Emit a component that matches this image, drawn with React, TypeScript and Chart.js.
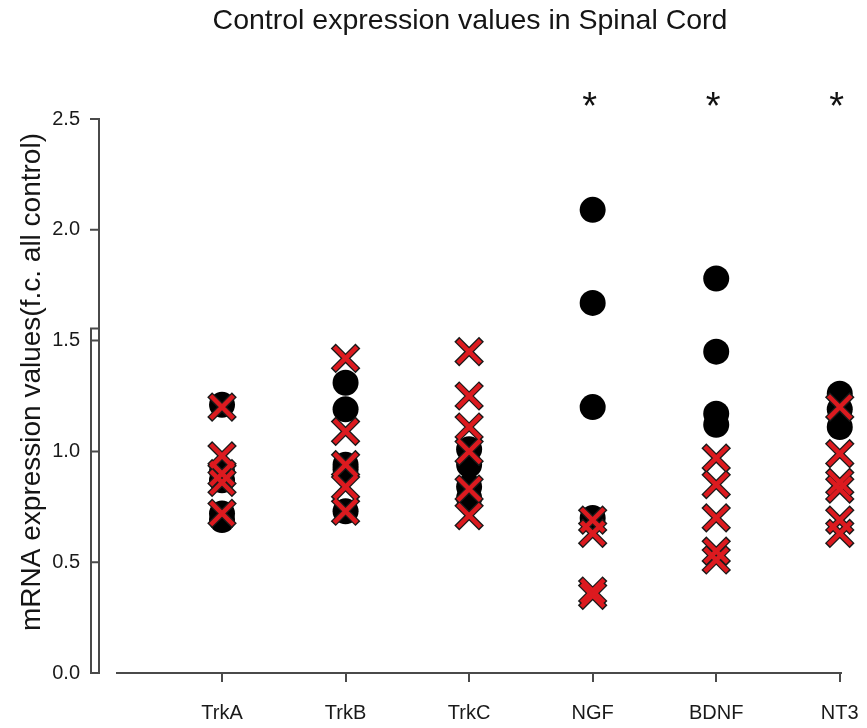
import { useEffect, useRef } from "react";
import { Chart, registerables } from "chart.js";

Chart.register(...registerables);

const chartTitle = "Control expression values in Spinal Cord";
const yAxisTitle = "mRNA expression values(f.c. all control)";
const categories = ["TrkA", "TrkB", "TrkC", "NGF", "BDNF", "NT3"];
// black circles (one list per category)
const circleValues = [
  [1.21, 0.91, 0.87, 0.72, 0.69],
  [1.31, 1.19, 0.94, 0.92, 0.73],
  [1.01, 0.94, 0.84, 0.79],
  [2.09, 1.67, 1.2, 0.7],
  [1.78, 1.45, 1.17, 1.12],
  [1.26, 1.19, 1.11],
];
// red crosses (one list per category)
const crossValues = [
  [1.2, 0.98, 0.9, 0.86, 0.72],
  [1.42, 1.09, 0.94, 0.84, 0.73],
  [1.45, 1.25, 1.11, 1.0, 0.83, 0.71],
  [0.69, 0.63, 0.37, 0.35],
  [0.97, 0.85, 0.7, 0.55, 0.51],
  [1.2, 0.99, 0.86, 0.83, 0.69, 0.63],
];
const significantCategories = ["NGF", "BDNF", "NT3"];
const significanceLevel = 2.6;
const yTickValues = [0, 0.5, 1.0, 1.5, 2.0, 2.5];
const yBoxTop = 1.555;

const FONT = "'Liberation Sans', Arial, Helvetica, sans-serif";
const RED = "#dc1a1f";
const AXIS = "#4a4a4a";

function toPoints(lists: number[][]) {
  const pts: { x: number; y: number }[] = [];
  lists.forEach((vals, i) => vals.forEach((v) => pts.push({ x: i + 1, y: v })));
  return pts;
}

const decorPlugin = {
  id: "decor",
  afterDraw(chart: any) {
    const { ctx, chartArea, scales } = chart;
    const xs = scales.x;
    const ys = scales.y;
    ctx.save();
    // title
    ctx.fillStyle = "#151515";
    ctx.font = `28.5px ${FONT}`;
    ctx.textAlign = "center";
    ctx.textBaseline = "alphabetic";
    ctx.fillText(chartTitle, 470, 29);

    // y axis title
    ctx.save();
    ctx.translate(40, 382);
    ctx.rotate(-Math.PI / 2);
    ctx.font = `28px ${FONT}`;
    ctx.fillText(yAxisTitle, 0, 0);
    ctx.restore();

    // y axis line, ticks and box
    const axisX = chartArea.left - 18;
    const boxX = chartArea.left - 26;
    const y0 = ys.getPixelForValue(0);
    const yTop = ys.getPixelForValue(yTickValues[yTickValues.length - 1]);
    const yBox = ys.getPixelForValue(yBoxTop);
    ctx.strokeStyle = AXIS;
    ctx.lineWidth = 2;
    ctx.beginPath();
    ctx.moveTo(axisX, yTop);
    ctx.lineTo(axisX, y0);
    ctx.moveTo(boxX, yBox);
    ctx.lineTo(boxX, y0);
    ctx.moveTo(boxX - 1, y0);
    ctx.lineTo(axisX + 1, y0);
    ctx.moveTo(boxX - 1, yBox);
    ctx.lineTo(axisX, yBox);
    yTickValues.forEach((v) => {
      const py = ys.getPixelForValue(v);
      ctx.moveTo(axisX - 9, py);
      ctx.lineTo(axisX + 1, py);
    });
    ctx.stroke();

    // significance asterisks
    ctx.fillStyle = "#111";
    ctx.font = `38px ${FONT}`;
    ctx.textAlign = "center";
    ctx.textBaseline = "alphabetic";
    significantCategories.forEach((c) => {
      const idx = categories.indexOf(c);
      const px = xs.getPixelForValue(idx + 1) - 3;
      const py = ys.getPixelForValue(significanceLevel);
      ctx.fillText("*", px, py + 22);
    });
    ctx.restore();
  },
};

export default function App() {
  const ref = useRef<HTMLCanvasElement>(null);
  useEffect(() => {
    if (!ref.current) return;
    const chart = new Chart(ref.current, {
      type: "scatter",
      data: {
        datasets: [
          {
            label: "cross",
            data: toPoints(crossValues),
            pointStyle: "crossRot",
            pointRadius: 16,
            borderColor: RED,
            backgroundColor: RED,
            borderWidth: 4.5,
            clip: false,
            order: 0,
          },
          {
            label: "cross outline",
            data: toPoints(crossValues),
            pointStyle: "crossRot",
            pointRadius: 17.5,
            borderColor: "#1a1a1a",
            backgroundColor: "#1a1a1a",
            borderWidth: 7,
            clip: false,
            order: 1,
          },
          {
            label: "circle",
            data: toPoints(circleValues),
            pointStyle: "circle",
            pointRadius: 13,
            borderWidth: 0,
            backgroundColor: "#000",
            borderColor: "#000",
            clip: false,
            order: 2,
          },
        ],
      },
      options: {
        animation: false,
        responsive: false,
        layout: { padding: { top: 119, right: 26, bottom: 0, left: 0 } },
        plugins: {
          legend: { display: false },
          tooltip: { enabled: false },
          title: { display: false },
        },
        scales: {
          x: {
            type: "linear",
            min: 0.15,
            max: 6.01,
            afterBuildTicks: (axis: any) => {
              axis.ticks = categories.map((_, i) => ({ value: i + 1 }));
            },
            afterFit: (s: any) => {
              s.height = 55;
              s.paddingLeft = 0;
              s.paddingRight = 0;
            },
            ticks: {
              autoSkip: false,
              maxRotation: 0,
              padding: 19,
              color: "#1a1a1a",
              font: { family: FONT, size: 20 },
              callback: (v: any) => categories[Math.round(Number(v)) - 1] ?? "",
            },
            grid: {
              display: true,
              drawOnChartArea: false,
              drawTicks: true,
              tickLength: 9,
              color: AXIS,
              lineWidth: 2,
            },
            border: { display: true, color: AXIS, width: 2 },
          },
          y: {
            min: 0,
            max: 2.5,
            afterBuildTicks: (axis: any) => {
              axis.ticks = yTickValues.map((v) => ({ value: v }));
            },
            afterFit: (s: any) => {
              s.width = 117;
              s.paddingTop = 0;
              s.paddingBottom = 0;
            },
            ticks: {
              padding: 37,
              color: "#1a1a1a",
              font: { family: FONT, size: 20 },
              callback: (v: any) => Number(v).toFixed(1),
            },
            grid: { display: false, drawTicks: false },
            border: { display: false },
          },
        },
      },
      plugins: [decorPlugin],
    });
    return () => chart.destroy();
  }, []);
  return (
    <div style={{ position: "fixed", left: 0, top: 0, width: 867, height: 728, background: "#fff" }}>
      <canvas ref={ref} width={867} height={728} />
    </div>
  );
}
